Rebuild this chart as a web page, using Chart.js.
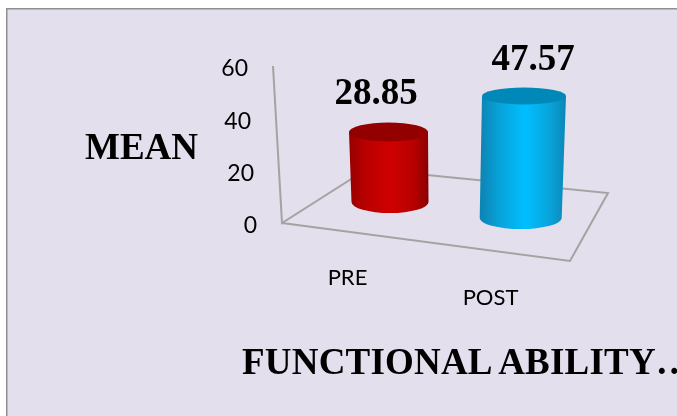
<!DOCTYPE html>
<html>
<head>
<meta charset="utf-8">
<script src="https://cdn.jsdelivr.net/npm/chart.js@4"></script>
<style>
  html, body { margin: 0; padding: 0; background: #fff; overflow: hidden; }
  canvas { display: block; }
</style>
</head>
<body>
<canvas id="chart" width="677" height="416"></canvas>
<script>
const categories = ['PRE', 'POST'];
const meanValues = [28.85, 47.57];
const valueLabels = ['28.85', '47.57'];
const yTickValues = [0, 20, 40, 60];
const yAxisTitle = 'MEAN';
const xAxisTitle = 'FUNCTIONAL ABILITY…';

const PANEL = '#e4dfec';
const FRAME = '#8f8f8f';
const WALL = '#a3a3a3';
const SERIF_BOLD = 'bold 37px "Liberation Serif", serif';
const SANS = '22px Lato, sans-serif';
const TICK_FONT = '23px Lato, sans-serif';

// Per-column perspective: how far the column sits back from the front floor edge.
const columnViews = [
  { lift: 21, squash: 0.927, lean: 1.5, topRx: 39.5, topRy: 9.5, baseRx: 38.5, baseRy: 11,
    shiftX: 1, labelDx: -12.5, labelDy: -28, catDx: -41.5, catY: 285,
    top: '#930000', stops: ['#960000', '#b80000', '#d00000', '#b80000', '#8c0000'] },
  { lift: 5, squash: 0.98, lean: -3.3, topRx: 42, topRy: 8.5, baseRx: 41, baseRy: 11,
    shiftX: -1.3, labelDx: 9, labelDy: -26, catDx: -31.5, catY: 305,
    top: '#0088b8', stops: ['#0c86b6', '#08a2d8', '#00bfff', '#08a2d8', '#0c86b6'] }
];

// Floor outline and the slant of the value axis, in canvas space.
const floorBackLeft = [367, 169];
const floorBackRight = [608, 193];
const floorFrontRight = [570, 261];
const axisLeanPerPixel = 9 / 157;

function axisX(scale, py) {
  return 282 - (scale.bottom - py) * axisLeanPerPixel;
}

const scene3d = {
  id: 'scene3d',
  beforeDraw(chart) {
    const { ctx, width, height } = chart;
    ctx.save();
    ctx.fillStyle = '#fff';
    ctx.fillRect(0, 0, width, height);
    ctx.fillStyle = PANEL;
    ctx.fillRect(6, 8, width - 6, height - 8);
    ctx.fillStyle = FRAME;
    ctx.fillRect(6, 8, width - 6, 1.5);
    ctx.fillRect(6, 8, 1.5, height - 8);
    ctx.restore();
  },
  beforeDatasetsDraw(chart) {
    const { ctx, scales: { y } } = chart;
    const zeroY = y.getPixelForValue(0);
    const topY = y.getPixelForValue(60);
    const corner = [axisX(y, zeroY), zeroY];
    ctx.save();
    ctx.strokeStyle = WALL;
    ctx.lineWidth = 2;
    ctx.beginPath();
    ctx.moveTo(axisX(y, topY), topY);
    ctx.lineTo(corner[0], corner[1]);
    ctx.lineTo(floorBackLeft[0], floorBackLeft[1]);
    ctx.lineTo(floorBackRight[0], floorBackRight[1]);
    ctx.lineTo(floorFrontRight[0], floorFrontRight[1]);
    ctx.lineTo(corner[0], corner[1]);
    ctx.stroke();

    ctx.fillStyle = '#000';
    ctx.font = TICK_FONT;
    ctx.textAlign = 'right';
    ctx.textBaseline = 'middle';
    y.ticks.forEach(t => {
      const py = y.getPixelForValue(t.value);
      ctx.fillText(t.label, axisX(y, py) - 25, py + 3);
    });
    ctx.restore();
  },
  // The cylinders replace the flat bars, using each bar element's own geometry.
  beforeDatasetDraw(chart, args) {
    const { ctx } = chart;
    const bars = chart.getDatasetMeta(args.index).data;
    bars.forEach((bar, i) => {
      const v = columnViews[i];
      const baseY = bar.base - v.lift;
      const topY = baseY - (bar.base - bar.y) * v.squash;
      const bx = bar.x + v.shiftX;
      const tx = bx - v.lean;
      const grad = ctx.createLinearGradient(tx - v.topRx, 0, tx + v.topRx, 0);
      [0, 0.2, 0.52, 0.82, 1].forEach((s, k) => grad.addColorStop(s, v.stops[k]));
      ctx.save();
      ctx.fillStyle = grad;
      ctx.beginPath();
      ctx.moveTo(tx - v.topRx, topY);
      ctx.lineTo(bx - v.baseRx, baseY);
      ctx.ellipse(bx, baseY, v.baseRx, v.baseRy, 0, Math.PI, 0, true);
      ctx.lineTo(tx + v.topRx, topY);
      ctx.closePath();
      ctx.fill();
      ctx.fillStyle = v.top;
      ctx.beginPath();
      ctx.ellipse(tx, topY, v.topRx, v.topRy, 0, 0, Math.PI * 2);
      ctx.fill();
      ctx.restore();
    });
    return false;
  },
  afterDatasetsDraw(chart) {
    const { ctx, scales: { x } } = chart;
    const bars = chart.getDatasetMeta(0).data;
    ctx.save();
    ctx.fillStyle = '#000';
    ctx.textBaseline = 'alphabetic';
    bars.forEach((bar, i) => {
      const v = columnViews[i];
      const baseY = bar.base - v.lift;
      const topY = baseY - (bar.base - bar.y) * v.squash;
      ctx.font = SERIF_BOLD;
      ctx.textAlign = 'center';
      ctx.fillText(valueLabels[i], bar.x + v.shiftX - v.lean + v.labelDx, topY + v.labelDy);
      ctx.font = SANS;
      ctx.fillText(x.getLabelForValue(i), x.getPixelForValue(i) + v.catDx, v.catY);
    });
    ctx.font = SERIF_BOLD;
    ctx.textAlign = 'left';
    ctx.fillText(yAxisTitle, 85, 159);
    ctx.letterSpacing = '0.2px';
    ctx.wordSpacing = '-4px';
    ctx.fillText(xAxisTitle, 242, 374);
    ctx.restore();
  }
};

new Chart(document.getElementById('chart'), {
  type: 'bar',
  data: {
    labels: categories,
    datasets: [{
      label: yAxisTitle,
      data: meanValues,
      backgroundColor: ['#cc0000', '#00bfff'],
      barPercentage: 0.6,
      categoryPercentage: 1
    }]
  },
  options: {
    responsive: false,
    animation: false,
    layout: { padding: { left: 322.5, right: 88.5, top: 66, bottom: 193 } },
    plugins: { legend: { display: false }, tooltip: { enabled: false } },
    scales: {
      x: { display: false },
      y: {
        display: false,
        min: 0,
        max: 60,
        afterBuildTicks(axis) { axis.ticks = yTickValues.map(value => ({ value, label: String(value) })); }
      }
    }
  },
  plugins: [scene3d]
});
</script>
</body>
</html>
